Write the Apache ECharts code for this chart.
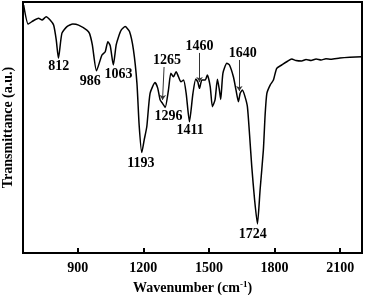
<!DOCTYPE html>
<html>
<head>
<meta charset="utf-8">
<script src="https://cdn.jsdelivr.net/npm/echarts@6/dist/echarts.min.js"></script>
<style>
  html, body { margin: 0; padding: 0; background: #fff; }
  #chart { width: 365px; height: 295px; }
</style>
</head>
<body>
<div id="chart"></div>
<script>
// spectrum: wavenumber (cm-1) and transmittance (a.u.)
var wavenumbers = [653, 674, 691, 721, 737, 756, 774, 790, 802, 812, 828, 851, 878, 904, 942, 954, 967, 986,
  1011, 1026, 1038, 1049, 1063, 1076, 1087, 1099, 1117, 1137, 1155, 1171, 1181, 1193, 1204, 1216, 1231, 1254,
  1266, 1277, 1288, 1300, 1315, 1326, 1338, 1350, 1361, 1372, 1384, 1396, 1411, 1427, 1440, 1449, 1457, 1468,
  1483, 1493, 1506, 1516, 1528, 1539, 1548, 1554, 1564, 1582, 1594, 1612, 1624, 1635, 1643, 1653, 1665, 1676,
  1686, 1696, 1709, 1722, 1734, 1749, 1757, 1765, 1780, 1795, 1810, 1833, 1856, 1879, 1898, 1924, 1944, 1967,
  1990, 2013, 2035, 2058, 2099, 2145, 2199];
var transmittance = [98.8, 91.2, 92.2, 93.5, 92.8, 94.1, 92.8, 90.8, 84.9, 77.6, 87.6, 90.2, 91.2, 90.8, 88.8, 87.5, 82.9, 72.6,
  78.9, 80.2, 84.2, 82.5, 74.9, 82.9, 86.2, 88.8, 90.2, 88.2, 80.9, 67.6, 51, 40, 45, 50.3, 63.6, 67.9,
  65.7, 61, 59.6, 58, 64.9, 71.6, 70.2, 72.2, 70.2, 68.2, 68.9, 63.6, 52.3, 63.6, 69.3, 68.2, 65.6, 68.9,
  68.9, 70.9, 66.3, 58.3, 61, 69.2, 64.9, 61.2, 71.6, 75.6, 74.9, 70.2, 64.9, 60.3, 63.6, 64.9, 62.3, 58.3,
  47, 34.4, 21.1, 11.6, 25.1, 41, 55, 63.6, 66.9, 68.9, 73.6, 74.9, 76.2, 77.3, 76.7, 76.5, 77.1, 76.7,
  77.3, 76.9, 77.4, 77.2, 77.7, 78, 78.2];

// tick values on the wavenumber axis
var xTicks = [900, 1200, 1500, 1800, 2100];

// peak labels and where their text sits (data coords)
var peakNames = ['812', '986', '1063', '1193', '1265', '1296', '1411', '1460', '1640', '1724'];
var peakLabelX = [813, 957, 1087, 1189, 1308, 1315, 1414, 1457, 1655, 1701];
var peakLabelY = [74.5, 68.5, 71.3, 35.9, 76.6, 54.6, 48.7, 82.5, 79.6, 7.6];

// arrows: from label down to the shoulder
var arrowFrom = [[1295, 74.1], [1458, 79.7], [1639, 76.9]];
var arrowTo = [[1288, 61], [1457, 68.1], [1639, 64.5]];

var serif = 'Liberation Serif';

var lineData = wavenumbers.map(function (w, i) { return [w, transmittance[i]]; });

var labelPoints = peakNames.map(function (n, i) {
  return {
    coord: [peakLabelX[i], peakLabelY[i]],
    value: n
  };
});

var arrows = arrowFrom.map(function (f, i) {
  return [{ coord: f }, { coord: arrowTo[i] }];
});

var chart = echarts.init(document.getElementById('chart'));

var option = {
  animation: false,
  grid: {
    left: 23, right: 3, top: 2, bottom: 42,
    outerBoundsMode: 'none',
    containLabel: false,
    show: true, borderColor: '#000', borderWidth: 2
  },
  xAxis: {
    type: 'value',
    min: 650, max: 2200,
    name: 'Wavenumber (cm{s|-1})',
    nameLocation: 'middle',
    nameGap: 22,
    nameTextStyle: {
      color: '#000', fontFamily: serif, fontWeight: 'bold', fontSize: 14,
      rich: {
        s: { fontFamily: serif, fontWeight: 'bold', fontSize: 9, color: '#000', padding: [0, 0, 7, 0] }
      }
    },
    axisLine: { lineStyle: { color: '#000', width: 2 } },
    axisTick: { inside: true, length: 5, lineStyle: { color: '#000', width: 2 }, customValues: xTicks },
    axisLabel: {
      color: '#000', fontFamily: serif, fontWeight: 'bold', fontSize: 14, margin: 8,
      customValues: xTicks,
      formatter: function (v) { return String(v); }
    },
    splitLine: { show: false }
  },
  yAxis: {
    type: 'value',
    min: 0, max: 100,
    name: 'Transmittance (a.u.)',
    nameLocation: 'middle',
    nameGap: 8,
    nameTextStyle: { color: '#000', fontFamily: serif, fontWeight: 'bold', fontSize: 14 },
    axisLine: { show: true, lineStyle: { color: '#000', width: 2 } },
    axisTick: { show: false },
    axisLabel: { show: false },
    splitLine: { show: false }
  },
  series: [{
    type: 'line',
    data: lineData,
    showSymbol: false,
    smooth: 0.2,
    lineStyle: { color: '#000', width: 1.5 },
    markPoint: {
      symbol: 'circle',
      symbolSize: 0,
      label: {
        show: true,
        position: 'inside',
        formatter: function (p) { return p.value; },
        color: '#000', fontFamily: serif, fontWeight: 'bold', fontSize: 14
      },
      data: labelPoints
    },
    markLine: {
      silent: true,
      symbol: ['none', 'arrow'],
      symbolSize: 5,
      label: { show: false },
      lineStyle: { color: '#333', width: 1, type: 'solid' },
      data: arrows
    }
  }]
};

chart.setOption(option);
</script>
</body>
</html>
